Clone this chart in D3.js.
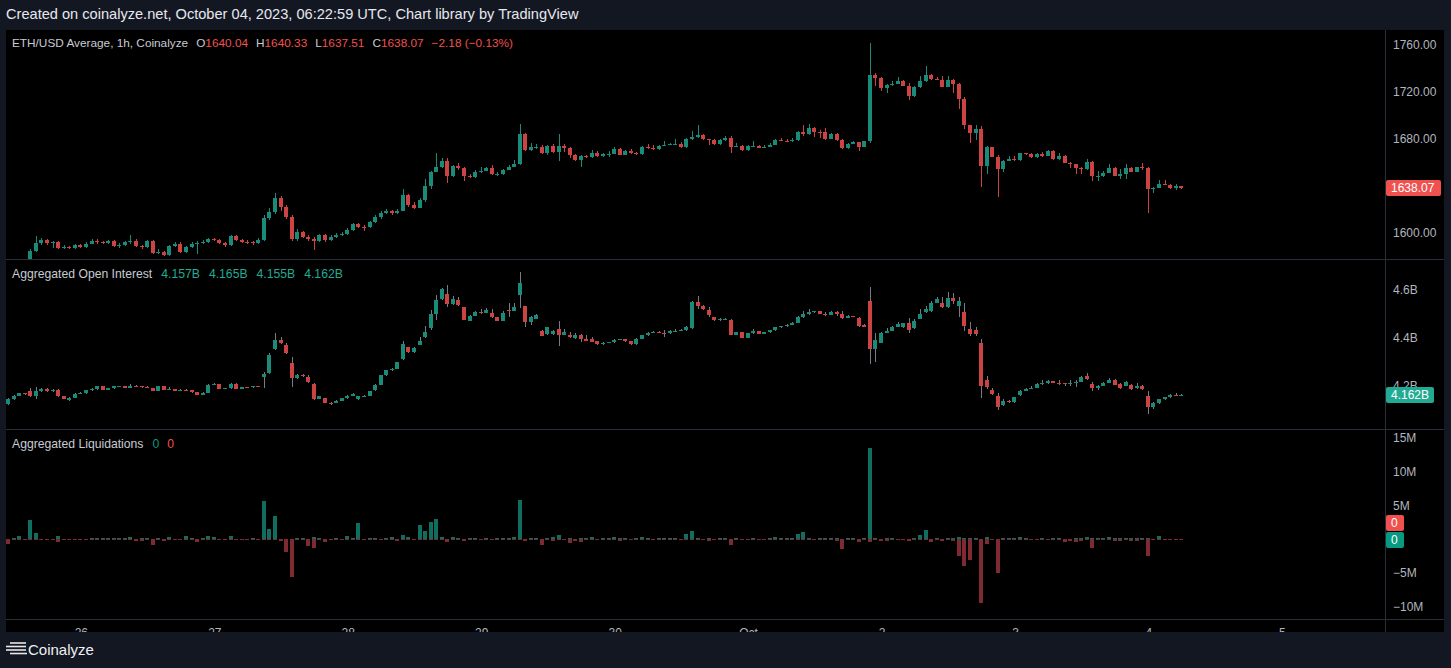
<!DOCTYPE html>
<html><head><meta charset="utf-8">
<script src="https://cdn.jsdelivr.net/npm/d3@7"></script>
<style>html,body{margin:0;padding:0;background:#131722;overflow:hidden}</style>
</head><body><svg id="c" width="1451" height="668"></svg>
<script>
// ---------------- DATA ----------------
const startHourUTC = Date.UTC(2023, 8, 25, 11); // first candle Sep 25 11:00 UTC, hourly
const ethFirstOpen = 1575;
const ethOpenGapIdx = [211];
const ethOpenGapVal = [1640.04];
const ethClose = [1574,1572,1575,1573.5,1584.9,1591.2,1594,1591.2,1592,1587,
1588,1587.5,1589.5,1588,1591,1593.4,1592,1591.5,1593,1589,
1590,1592,1593.4,1589,1588,1593,1583.3,1583.8,1581.6,1589,
1591,1584,1588,1591,1591.8,1592.5,1594.6,1594,1591.5,1590,
1597.4,1594,1592.5,1592,1591.5,1594,1613,1618,1630,1622,
1614,1594.5,1601,1597,1595,1593.4,1598,1594,1597,1598.4,
1599.5,1602.5,1607.5,1605.4,1604.8,1609.6,1613.9,1617.3,1618.5,1617.4,
1619,1632.3,1623.6,1621.6,1628.3,1640,1652.2,1656.4,1661.5,1648.5,
1657,1655,1648.5,1647.5,1652.2,1653,1655.3,1650.2,1650.5,1653.9,
1656.4,1658.7,1684.2,1670.6,1673.2,1673.5,1667.8,1674,1668.7,1674,
1672.3,1666.4,1662,1665.5,1664.7,1668.3,1665.3,1667,1667.4,1671.5,
1666.6,1669.5,1667.8,1667.2,1673.2,1672,1671.5,1674.3,1675.2,1675.5,
1675.8,1673,1679.7,1681.7,1683.4,1679.7,1679.2,1676,1679.1,1680.6,
1673.5,1673.8,1670.6,1674,1674.3,1672.5,1673.6,1675.2,1679.1,1678.5,
1678,1679,1686,1684.2,1689.3,1686.3,1685.7,1680.3,1684.3,1679.1,
1672,1676,1677.3,1673.3,1677.9,1734.4,1731.6,1723.7,1725.7,1727,
1729.3,1725.4,1716.8,1724,1729.3,1734.4,1731,1730.5,1724.5,1730.3,
1727,1714.3,1691.9,1685.4,1688.8,1657,1673.2,1665,1654.5,1661.3,
1663,1662.1,1667.8,1667.1,1664.7,1667,1665.7,1669.8,1662.7,1665.5,
1659.8,1658.3,1655.6,1654.8,1660.6,1648.2,1648.5,1651.3,1655.6,1648.8,
1650,1655.3,1652.2,1656,1655.3,1637.4,1638.6,1641.7,1641,1638.3,
1640.25,1638.07];
const ethHigh = [1576.5,1575,1576.8,1577,1586.5,1597.7,1595.5,1595,1593,1593,
1589.5,1589,1590.5,1590.5,1592,1594.5,1594.5,1593,1594.2,1594,
1591.5,1593,1598,1594.5,1590,1594,1594,1586.8,1585,1590,
1592.5,1592,1589,1592,1593,1594,1596,1595.8,1595,1592.5,
1598.5,1598,1595,1594,1593,1595.5,1615,1621,1634,1631.5,
1624,1615.5,1603,1602,1598,1596.5,1599.5,1599,1598,1600,
1601,1604,1608.5,1608.5,1606.5,1610.5,1615,1618.5,1620.5,1619.8,
1620.5,1637.4,1633.5,1626.5,1629.5,1646,1653,1668,1663.5,1664,
1658,1660,1656,1650,1653.5,1656,1656.5,1657.5,1652,1654.5,
1657.5,1662,1692.7,1685,1677,1675.5,1674.5,1675,1676,1684,
1676,1673,1667,1666,1666.5,1670.5,1669.5,1668,1670,1673,
1672,1670.5,1671.5,1669.3,1674,1675.5,1674.5,1675.3,1678,1676.5,
1680,1677.5,1680.5,1687,1691.6,1684.5,1680.3,1680,1680,1682.5,
1682.5,1677,1674.5,1675,1678,1675,1674.5,1676.5,1680,1680.5,
1679.8,1681,1687,1692,1692.5,1690,1687.5,1689,1685,1684.8,
1679.8,1676.5,1678,1677.8,1678.5,1762,1736,1732.5,1726.5,1729,
1733,1730,1727.5,1724.8,1733.5,1742,1735.5,1732.5,1733.5,1733.5,
1730.8,1727.5,1716,1692.2,1692,1691,1673.8,1673.6,1666,1662,
1665.5,1665.5,1668.5,1668.5,1668,1668,1669,1670.5,1670.3,1668,
1666,1660.5,1659,1656.3,1663,1661.2,1652.5,1653,1658.5,1656.5,
1654.5,1659,1656,1656.5,1659.5,1656.5,1639.5,1645,1645,1641.5,
1641.5,1640.33];
const ethLow = [1571,1570,1571.5,1572,1572.5,1584,1589.5,1590,1587.5,1586,
1586,1586.5,1586.5,1587,1587,1590.5,1591,1590.5,1590.8,1588,
1587.5,1589,1591,1588,1586.5,1587,1582,1582,1580.5,1580.5,
1588,1583,1583,1587,1582,1590.5,1591.5,1593,1590.5,1588.5,
1589,1593,1591.5,1591,1590,1590.5,1593,1611,1616,1619,
1612,1593,1593,1595.5,1593.5,1585.5,1592.5,1592.5,1593,1596,
1597.5,1598.5,1601.5,1604,1602,1604,1608.5,1612,1616.5,1615.5,
1616.5,1618.5,1622.5,1620.5,1621,1626.5,1637.8,1651.5,1655.5,1642.6,
1648,1654,1644,1646.5,1647,1651,1652.5,1649.5,1648.5,1649.5,
1653.5,1656,1658,1670,1670,1671.5,1667,1666.5,1668,1661.6,
1669,1664,1661.5,1656.5,1663.5,1664,1664.5,1664.8,1665,1667,
1666,1666,1667,1666.6,1666.8,1671.5,1671,1671,1674,1674.8,
1675,1672.5,1672.5,1679.2,1681,1679,1674.5,1675,1675.2,1678.5,
1668.3,1673,1670,1670,1673.5,1672,1672,1673,1674.8,1678,
1677.5,1677.5,1678.5,1682.5,1683.5,1681.5,1681,1679,1680,1678.5,
1671.5,1671.5,1675.5,1669.5,1673,1676.5,1725,1720.8,1719.5,1725,
1726.5,1725,1713.5,1716,1723.5,1728.5,1730.5,1730,1724,1724,
1719,1705.4,1688.6,1677,1679.5,1639,1650,1664.5,1631,1652,
1661,1661.5,1661.5,1666.5,1664,1664.2,1665,1665.5,1662,1662.3,
1659.2,1655.5,1650.5,1650,1653.8,1644,1644,1648,1651,1648.2,
1646,1646,1651.8,1651.5,1653.5,1617,1634,1638.3,1640.6,1637.8,
1637,1637.51];

// Aggregated open interest, billions
const oiOpen = [4.121,4.142,4.156,4.167,4.176,4.156,4.175,4.186,4.175,4.183,
4.156,4.138,4.148,4.165,4.168,4.180,4.185,4.197,4.183,4.188,
4.196,4.197,4.191,4.199,4.198,4.192,4.189,4.178,4.198,4.183,
4.185,4.178,4.183,4.180,4.172,4.162,4.170,4.203,4.207,4.187,
4.189,4.208,4.186,4.193,4.192,4.198,4.235,4.253,4.353,4.392,
4.371,4.295,4.232,4.246,4.235,4.208,4.144,4.146,4.128,4.128,
4.137,4.146,4.158,4.142,4.156,4.157,4.180,4.204,4.242,4.263,
4.270,4.311,4.360,4.340,4.370,4.404,4.440,4.500,4.563,4.583,
4.540,4.558,4.528,4.472,4.492,4.507,4.504,4.504,4.485,4.472,
4.517,4.512,4.579,4.533,4.467,4.479,4.429,4.415,4.415,4.437,
4.412,4.413,4.398,4.413,4.396,4.396,4.385,4.372,4.380,4.382,
4.392,4.394,4.385,4.372,4.395,4.410,4.420,4.425,4.420,4.418,
4.429,4.430,4.432,4.440,4.550,4.535,4.517,4.487,4.474,4.478,
4.475,4.412,4.422,4.401,4.419,4.428,4.417,4.422,4.431,4.443,
4.449,4.454,4.463,4.486,4.499,4.507,4.510,4.500,4.497,4.508,
4.500,4.483,4.490,4.483,4.454,4.554,4.354,4.380,4.420,4.430,
4.446,4.444,4.461,4.440,4.479,4.507,4.510,4.547,4.545,4.528,
4.565,4.535,4.506,4.438,4.431,4.376,4.225,4.183,4.158,4.118,
4.133,4.130,4.160,4.179,4.187,4.190,4.208,4.210,4.218,4.211,
4.210,4.206,4.211,4.215,4.240,4.208,4.188,4.200,4.211,4.225,
4.208,4.200,4.204,4.188,4.200,4.158,4.111,4.126,4.142,4.150,
4.160,4.157];
const oiClose = [4.142,4.156,4.167,4.165,4.156,4.175,4.186,4.175,4.183,4.156,
4.145,4.148,4.165,4.168,4.180,4.185,4.197,4.183,4.188,4.196,
4.197,4.191,4.199,4.198,4.192,4.191,4.178,4.198,4.183,4.185,
4.178,4.183,4.180,4.172,4.162,4.170,4.203,4.207,4.187,4.189,
4.208,4.186,4.193,4.192,4.198,4.195,4.250,4.329,4.392,4.378,
4.336,4.232,4.246,4.238,4.214,4.142,4.155,4.128,4.121,4.137,
4.146,4.158,4.165,4.156,4.157,4.176,4.204,4.242,4.263,4.270,
4.297,4.375,4.340,4.357,4.387,4.425,4.500,4.558,4.604,4.543,
4.562,4.537,4.475,4.492,4.507,4.504,4.517,4.485,4.472,4.504,
4.510,4.529,4.630,4.468,4.487,4.496,4.408,4.443,4.430,4.412,
4.425,4.403,4.410,4.396,4.388,4.383,4.372,4.380,4.382,4.392,
4.394,4.385,4.372,4.395,4.410,4.420,4.425,4.420,4.418,4.429,
4.430,4.432,4.447,4.549,4.535,4.520,4.496,4.474,4.478,4.480,
4.412,4.422,4.401,4.419,4.428,4.417,4.422,4.431,4.443,4.449,
4.454,4.463,4.486,4.499,4.507,4.510,4.500,4.497,4.508,4.500,
4.483,4.490,4.488,4.449,4.445,4.354,4.392,4.420,4.430,4.446,
4.458,4.461,4.433,4.471,4.500,4.520,4.547,4.563,4.528,4.567,
4.553,4.554,4.451,4.417,4.415,4.197,4.194,4.165,4.111,4.133,
4.130,4.151,4.179,4.187,4.190,4.208,4.210,4.218,4.211,4.210,
4.206,4.211,4.215,4.234,4.229,4.188,4.200,4.211,4.225,4.204,
4.188,4.214,4.185,4.200,4.184,4.111,4.126,4.142,4.150,4.160,
4.157,4.162];
const oiHigh = [4.146,4.160,4.169,4.170,4.190,4.193,4.189,4.188,4.187,4.185,
4.158,4.150,4.167,4.171,4.182,4.188,4.199,4.198,4.191,4.198,
4.200,4.199,4.205,4.203,4.200,4.197,4.191,4.200,4.200,4.194,
4.187,4.185,4.185,4.181,4.174,4.172,4.205,4.210,4.208,4.191,
4.210,4.209,4.195,4.195,4.200,4.200,4.255,4.335,4.420,4.405,
4.380,4.318,4.249,4.248,4.242,4.210,4.157,4.148,4.130,4.139,
4.148,4.160,4.167,4.158,4.161,4.178,4.206,4.244,4.265,4.273,
4.300,4.387,4.362,4.360,4.402,4.450,4.515,4.579,4.610,4.620,
4.575,4.570,4.530,4.495,4.510,4.520,4.525,4.519,4.487,4.513,
4.547,4.547,4.675,4.535,4.490,4.498,4.431,4.445,4.432,4.470,
4.436,4.424,4.420,4.415,4.413,4.404,4.387,4.382,4.384,4.394,
4.396,4.396,4.388,4.397,4.412,4.422,4.428,4.427,4.432,4.431,
4.438,4.438,4.449,4.556,4.575,4.537,4.527,4.489,4.482,4.483,
4.477,4.424,4.424,4.421,4.436,4.430,4.425,4.433,4.445,4.451,
4.456,4.465,4.492,4.513,4.520,4.513,4.512,4.506,4.511,4.510,
4.512,4.497,4.492,4.485,4.456,4.612,4.420,4.422,4.440,4.448,
4.464,4.463,4.483,4.478,4.520,4.535,4.552,4.570,4.570,4.592,
4.587,4.572,4.545,4.466,4.445,4.395,4.238,4.190,4.170,4.144,
4.140,4.153,4.181,4.189,4.196,4.210,4.222,4.222,4.220,4.221,
4.212,4.221,4.223,4.238,4.254,4.215,4.204,4.215,4.232,4.228,
4.210,4.218,4.206,4.211,4.204,4.175,4.130,4.144,4.152,4.163,
4.170,4.165];
const oiLow = [4.118,4.140,4.154,4.162,4.150,4.145,4.172,4.172,4.173,4.153,
4.142,4.136,4.146,4.163,4.166,4.178,4.183,4.181,4.181,4.186,
4.194,4.189,4.189,4.192,4.190,4.188,4.176,4.176,4.181,4.182,
4.176,4.176,4.178,4.170,4.160,4.159,4.169,4.201,4.185,4.184,
4.187,4.184,4.185,4.190,4.190,4.193,4.190,4.250,4.350,4.375,
4.333,4.195,4.229,4.236,4.212,4.140,4.142,4.126,4.119,4.126,
4.135,4.144,4.156,4.140,4.153,4.155,4.178,4.202,4.240,4.261,
4.268,4.308,4.338,4.338,4.368,4.397,4.432,4.475,4.560,4.530,
4.538,4.535,4.473,4.470,4.490,4.500,4.502,4.483,4.470,4.470,
4.488,4.510,4.525,4.443,4.455,4.477,4.406,4.413,4.413,4.367,
4.410,4.401,4.396,4.383,4.386,4.381,4.370,4.370,4.378,4.380,
4.389,4.383,4.370,4.370,4.393,4.408,4.418,4.418,4.405,4.416,
4.427,4.428,4.430,4.438,4.520,4.518,4.487,4.472,4.471,4.476,
4.410,4.410,4.399,4.399,4.417,4.415,4.415,4.420,4.429,4.441,
4.447,4.452,4.461,4.484,4.497,4.505,4.498,4.490,4.495,4.493,
4.478,4.481,4.486,4.447,4.443,4.288,4.300,4.378,4.418,4.428,
4.444,4.442,4.420,4.438,4.477,4.505,4.508,4.545,4.525,4.526,
4.540,4.487,4.430,4.407,4.407,4.147,4.186,4.162,4.097,4.115,
4.128,4.128,4.158,4.177,4.185,4.188,4.203,4.208,4.209,4.202,
4.200,4.196,4.193,4.213,4.223,4.177,4.183,4.198,4.209,4.202,
4.186,4.198,4.183,4.186,4.182,4.079,4.102,4.124,4.140,4.148,
4.155,4.155];

// Aggregated liquidations, millions USD (shorts = green up, longs = red down)
const liqShorts = [0.05,0.2,0.5,0.05,2.9,0.9,0.05,0.05,0.05,0.45,
0.05,0.05,0.05,0.05,0.05,0.15,0.15,0.15,0.15,0.15,
0.15,0.15,0.3,0.1,0.15,0.15,0.05,0.15,0.05,0.3,
0.05,0.05,0.45,0.15,0.05,0.15,0.45,0.3,0.05,0.05,
0.45,0.05,0.05,0.05,0.15,0.05,5.7,1.6,3.5,0.1,
0.05,0.05,0.15,0.15,0.05,0.3,0.15,0.05,0.05,0.15,
0.05,0.45,0.15,2.5,0.1,0.15,0.15,0.1,0.15,0.3,
0.1,0.6,0.3,0.1,2.2,1.3,2.6,3.0,0.4,0.1,
0.3,0.15,0.1,0.15,0.15,0.1,0.15,0.1,0.15,0.15,
0.2,0.4,5.9,0.1,0.15,0.15,0.1,0.15,0.3,0.7,
0.1,0.2,0.1,0.15,0.15,0.3,0.1,0.15,0.15,0.3,
0.2,0.15,0.1,0.15,0.3,0.2,0.1,0.15,0.2,0.15,
0.2,0.1,0.8,1.3,0.2,0.1,0.15,0.1,0.15,0.2,
0.1,0.15,0.05,0.05,0.2,0.05,0.05,0.2,0.35,0.2,
0.2,0.2,0.74,1.04,0.2,0.05,0.2,0.2,0.2,0.2,
0.05,0.2,0.2,0.05,0.2,13.5,0.2,0.05,0.2,0.2,
0.05,0.05,0.05,0.2,0.6,1.33,0.05,0.2,0.05,0.2,
0.2,0.3,0.2,0.2,0.2,0.05,0.3,0.05,0.05,0.2,
0.2,0.2,0.3,0.2,0.05,0.05,0.2,0.05,0.2,0.2,
0.05,0.05,0.2,0.2,0.3,0.2,0.2,0.2,0.35,0.2,
0.2,0.2,0.2,0.2,0.2,0.2,0.05,0.45,0.05,0.05,
0.05,0.05];
const liqLongs = [0.74,0.05,0.05,0.05,0.05,0.05,0.05,0.05,0.05,0.4,
0.05,0.05,0.05,0.05,0.05,0.05,0.05,0.05,0.05,0.05,
0.05,0.05,0.05,0.25,0.25,0.05,0.9,0.1,0.2,0.05,
0.05,0.05,0.05,0.05,0.4,0.05,0.05,0.05,0.05,0.05,
0.05,0.05,0.05,0.05,0.05,0.05,0.05,0.05,0.05,0.25,
1.9,5.5,0.05,0.05,1.0,1.3,0.05,0.4,0.05,0.05,
0.05,0.05,0.05,0.05,0.05,0.05,0.05,0.05,0.05,0.05,
0.3,0.05,0.05,0.05,0.05,0.05,0.05,0.05,0.05,0.4,
0.05,0.05,0.3,0.05,0.05,0.05,0.05,0.05,0.05,0.05,
0.05,0.05,0.05,0.2,0.05,0.05,0.8,0.05,0.3,0.05,
0.05,0.5,0.3,0.4,0.05,0.05,0.05,0.05,0.05,0.05,
0.25,0.05,0.05,0.05,0.05,0.05,0.05,0.05,0.05,0.05,
0.05,0.05,0.05,0.05,0.05,0.05,0.3,0.05,0.05,0.05,
0.9,0.05,0.05,0.05,0.05,0.05,0.05,0.05,0.05,0.05,
0.05,0.05,0.05,0.05,0.05,0.05,0.05,0.05,0.05,0.25,
1.48,0.05,0.05,0.4,0.05,0.4,0.05,0.25,0.25,0.05,
0.05,0.05,0.25,0.05,0.05,0.05,0.4,0.05,0.25,0.05,
0.25,2.5,4.0,3.0,0.05,9.4,0.74,0.05,4.9,0.05,
0.05,0.05,0.05,0.05,0.05,0.05,0.05,0.05,0.05,0.05,
0.4,0.25,0.4,0.25,0.05,1.33,0.05,0.05,0.05,0.25,
0.25,0.05,0.25,0.25,0.05,2.4,0.05,0.05,0.05,0.05,
0.05,0.05];

const dayTickDates = ["2023-09-26","2023-09-27","2023-09-28","2023-09-29","2023-09-30","2023-10-01","2023-10-02","2023-10-03","2023-10-04","2023-10-05"];
const dayTickLabels = ["26","27","28","29","30","Oct","2","3","4","5"];
const ethTicks = [1600,1640,1680,1720,1760];
const oiTicks = [4.2,4.4,4.6];
const liqTicks = [-10,-5,5,10,15];
const liqTickLabels = ["\u221210M","\u22125M","5M","10M","15M"];

// ---------------- DRAW ----------------
const FONT = '"Liberation Sans", Arial, sans-serif';
const UP = '#1a8b78', DOWN = '#cc4343';
const LIQ_UP = '#0f6e5f', LIQ_DOWN = '#7e2a30';
const GRIDC = '#2a2e39', TXT = '#b2b5be';
const svg = d3.select('#c').style('font-family', FONT);

const n = ethClose.length;
const times = d3.range(n).map(i => new Date(startHourUTC + i*3600e3));
const ethOpen = ethClose.map((c,i) => i === 0 ? ethFirstOpen : ethClose[i-1]);
ethOpenGapIdx.forEach((i,k) => { ethOpen[i] = ethOpenGapVal[k]; });

const x = d3.scaleUtc().domain([times[0], times[n-1]]).range([9.1, 1182.3]);
const yEth = d3.scaleLinear().domain([1600,1760]).range([233,45]);
const yOi = d3.scaleLinear().domain([4.2,4.6]).range([385.5,290]);
const yLiq = d3.scaleLinear().domain([-10,15]).range([607,438]);

const L = 6, R = 1444, AX = 1385;
const panes = [{y0:30,y1:259},{y0:260,y1:429},{y0:430,y1:619}];

svg.append('rect').attr('width',1451).attr('height',668).attr('fill','#131722');
svg.append('rect').attr('x',L).attr('y',30).attr('width',R-L).attr('height',602).attr('fill','#000');

const defs = svg.append('defs');
panes.forEach((p,k)=>{
  defs.append('clipPath').attr('id','clip'+k).append('rect')
    .attr('x',L).attr('y',p.y0).attr('width',AX-L).attr('height',p.y1-p.y0);
});

function candles(k, o, h, l, c, y, wickGray){
  const g = svg.append('g').attr('clip-path',`url(#clip${k})`).attr('shape-rendering','crispEdges');
  const idx = d3.range(n);
  g.selectAll('rect.w').data(idx).join('rect').attr('class','w')
    .attr('x', i => Math.round(x(times[i])) - 1)
    .attr('width', 1)
    .attr('y', i => Math.round(y(h[i])))
    .attr('height', i => Math.max(1, Math.round(y(l[i])) - Math.round(y(h[i]))))
    .attr('fill', i => wickGray ? '#787b86' : (c[i] >= o[i] ? UP : DOWN));
  g.selectAll('rect.b').data(idx).join('rect').attr('class','b')
    .attr('x', i => Math.round(x(times[i])) - 3)
    .attr('width', 4)
    .attr('y', i => Math.round(y(Math.max(o[i],c[i]))))
    .attr('height', i => Math.max(1, Math.round(y(Math.min(o[i],c[i]))) - Math.round(y(Math.max(o[i],c[i])))))
    .attr('fill', i => c[i] >= o[i] ? UP : DOWN);
}
candles(0, ethOpen, ethHigh, ethLow, ethClose, yEth, false);
candles(1, oiOpen, oiHigh, oiLow, oiClose, yOi, true);

// liquidations
{
  const g = svg.append('g').attr('clip-path','url(#clip2)').attr('shape-rendering','crispEdges');
  const idx = d3.range(n);
  const y0 = Math.round(yLiq(0));
  g.selectAll('rect.lr').data(idx).join('rect').attr('class','lr')
    .attr('x', i => Math.round(x(times[i])) - 3).attr('width', 4)
    .attr('y', y0)
    .attr('height', i => Math.max(1, Math.round(yLiq(-liqLongs[i])) - y0))
    .attr('fill', LIQ_DOWN);
  g.selectAll('rect.ls').data(idx).join('rect').attr('class','ls')
    .attr('x', i => Math.round(x(times[i])) - 3).attr('width', 4)
    .attr('y', i => Math.round(yLiq(liqShorts[i])))
    .attr('height', i => Math.max(0, y0 - Math.round(yLiq(liqShorts[i]))))
    .attr('fill', LIQ_UP);
}

// separators
const sep = svg.append('g').attr('shape-rendering','crispEdges').attr('stroke',GRIDC).attr('stroke-width',1);
[259.5, 429.5, 619.5].forEach(yy => sep.append('line').attr('x1',L).attr('x2',R).attr('y1',yy).attr('y2',yy));
sep.append('line').attr('x1',AX+0.5).attr('x2',AX+0.5).attr('y1',30).attr('y2',632);

// right axes
function axisLabels(vals, labels, y){
  svg.append('g').selectAll('text').data(vals).join('text')
    .attr('x', 1393).attr('y', v => y(v)).attr('dy','0.35em')
    .attr('font-size',12).attr('fill',TXT)
    .text((v,i) => labels[i]);
}
axisLabels(ethTicks, ethTicks.map(v => v.toFixed(2)), yEth);
axisLabels(oiTicks, oiTicks.map(v => v.toFixed(1)+'B'), yOi);
axisLabels(liqTicks, liqTickLabels, yLiq);

function priceBox(val, text, y, color, w){
  const yy = Math.round(y(val));
  svg.append('rect').attr('x',1386).attr('y',yy-8).attr('width',w).attr('height',16).attr('rx',2).attr('fill',color);
  svg.append('text').attr('x',1391).attr('y',yy).attr('dy','0.36em').attr('font-size',12).attr('fill','#fff').text(text);
}
priceBox(ethClose[n-1], ethClose[n-1].toFixed(2), yEth, '#f0514f', 55);
priceBox(oiClose[n-1], oiClose[n-1].toFixed(3)+'B', yOi, '#22ab94', 48);
// liquidation last value boxes
svg.append('rect').attr('x',1386).attr('y',515).attr('width',18).attr('height',16).attr('rx',2).attr('fill','#f0514f');
svg.append('text').attr('x',1391).attr('y',523).attr('dy','0.36em').attr('font-size',12).attr('fill','#fff').text('0');
svg.append('rect').attr('x',1386).attr('y',532).attr('width',18).attr('height',16).attr('rx',2).attr('fill','#089981');
svg.append('text').attr('x',1391).attr('y',540).attr('dy','0.36em').attr('font-size',12).attr('fill','#fff').text('0');

// time axis labels (partially hidden by footer, as in the reference)
svg.append('g').selectAll('text').data(dayTickDates).join('text')
  .attr('x', d => x(new Date(d+'T00:00:00Z'))).attr('y', 637)
  .attr('text-anchor','middle').attr('font-size',12).attr('fill',TXT)
  .text((d,i) => dayTickLabels[i]);

// footer
svg.append('rect').attr('x',0).attr('y',632).attr('width',1451).attr('height',36).attr('fill','#131722');
const logo = svg.append('g').attr('stroke','#e8e8e8').attr('stroke-width',1.6);
[[10,26,643],[6,26,646.5],[6,26,650],[10,27,653.5]].forEach(([a,b,yy]) => logo.append('line').attr('x1',a).attr('x2',b).attr('y1',yy).attr('y2',yy));
svg.append('text').attr('x',28).attr('y',655).attr('font-size',15).attr('fill','#f0f0f0').text('Coinalyze');

// header
svg.append('text').attr('x',6).attr('y',19).attr('font-size',14.6).attr('fill','#e6e8ee')
  .text('Created on coinalyze.net, October 04, 2023, 06:22:59 UTC, Chart library by TradingView');

// legends
const lastI = n-1;
const lg1 = svg.append('text').attr('x',12).attr('y',47).attr('font-size',11.8).attr('fill','#c8cbd2');
lg1.append('tspan').text('ETH/USD Average, 1h, Coinalyze');
const RED = '#f0514f';
[['O', ethOpen[lastI]],['H', ethHigh[lastI]],['L', ethLow[lastI]],['C', ethClose[lastI]]].forEach(([k,v]) => {
  lg1.append('tspan').attr('dx', 8).text(k);
  lg1.append('tspan').attr('fill',RED).text(v.toFixed(2));
});
const chg = ethClose[lastI] - ethClose[lastI-1];
lg1.append('tspan').attr('dx',8).attr('fill',RED)
  .text('\u2212' + Math.abs(chg).toFixed(2) + ' (\u2212' + Math.abs(chg/ethClose[lastI-1]*100).toFixed(2) + '%)');

const lg2 = svg.append('text').attr('x',12).attr('y',278).attr('font-size',12.2).attr('fill','#c8cbd2');
lg2.append('tspan').text('Aggregated Open Interest');
[oiOpen[lastI], oiHigh[lastI], oiLow[lastI], oiClose[lastI]].forEach(v => {
  lg2.append('tspan').attr('dx',9).attr('fill','#22ab94').text(v.toFixed(3)+'B');
});
const lg3 = svg.append('text').attr('x',12).attr('y',448).attr('font-size',12.2).attr('fill','#c8cbd2');
lg3.append('tspan').text('Aggregated Liquidations');
lg3.append('tspan').attr('dx',9).attr('fill','#089981').text('0');
lg3.append('tspan').attr('dx',8).attr('fill',RED).text('0');
</script></body></html>
